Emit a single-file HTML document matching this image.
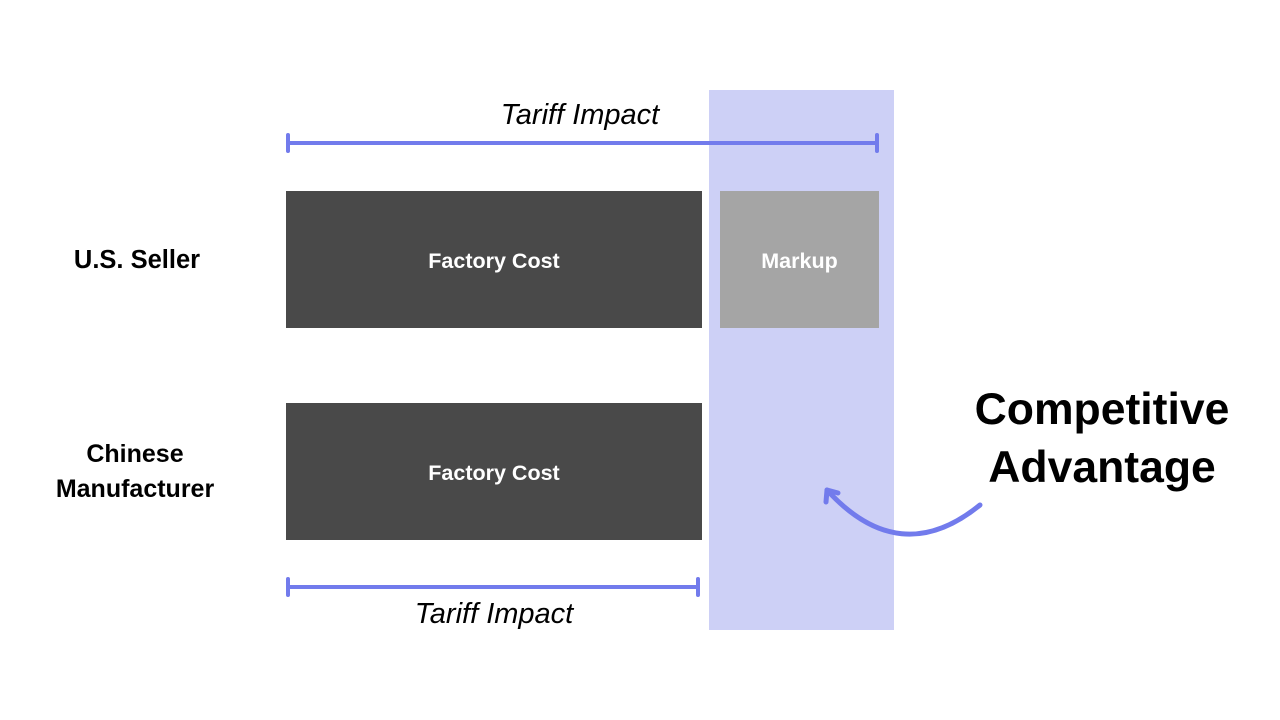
<!DOCTYPE html>
<html><head><style>
body{margin:0;width:1280px;height:720px;background:#fff;position:relative;overflow:hidden;font-family:"Liberation Sans",sans-serif}
.a{position:absolute}
.lbl{font-weight:bold;color:#000;text-align:center}
.box{display:flex;align-items:center;justify-content:center;color:#fff;font-weight:bold;font-size:21.5px;padding-top:4px;box-sizing:border-box}
</style></head><body>
<div class="a" style="left:709px;top:90px;width:185px;height:540px;background:#cdd0f6"></div>
<div class="a box" style="left:286px;top:191px;width:416px;height:137px;background:#494949">Factory Cost</div>
<div class="a box" style="left:720px;top:191px;width:159px;height:137px;background:#a5a5a5">Markup</div>
<div class="a box" style="left:286px;top:403px;width:416px;height:137px;background:#494949">Factory Cost</div>
<div class="a lbl" style="left:37px;top:246px;width:200px;font-size:25.5px">U.S. Seller</div>
<div class="a lbl" style="left:27px;top:437px;width:216px;font-size:25px;line-height:35px">Chinese<br>Manufacturer</div>
<div class="a lbl" style="left:952px;top:381px;width:300px;font-size:44.5px;line-height:58px">Competitive<br>Advantage</div>
<div class="a" style="left:430px;top:99px;width:300px;text-align:center;font-style:italic;font-size:29px">Tariff Impact</div>
<div class="a" style="left:344px;top:598px;width:300px;text-align:center;font-style:italic;font-size:29px">Tariff Impact</div>
<svg class="a" style="left:0;top:0" width="1280" height="720">
<g stroke="#727bec" stroke-width="4" stroke-linecap="round" fill="none">
<line x1="288" y1="143" x2="877" y2="143"/><line x1="288" y1="135" x2="288" y2="151"/><line x1="877" y1="135" x2="877" y2="151"/>
<line x1="288" y1="587" x2="698" y2="587"/><line x1="288" y1="579" x2="288" y2="595"/><line x1="698" y1="579" x2="698" y2="595"/>
<path d="M980 505 Q900 570 827 490" stroke-width="5"/>
<path d="M827 490 L826 502 M827 490 L838 493" stroke-width="5"/>
</g></svg>
</body></html>
